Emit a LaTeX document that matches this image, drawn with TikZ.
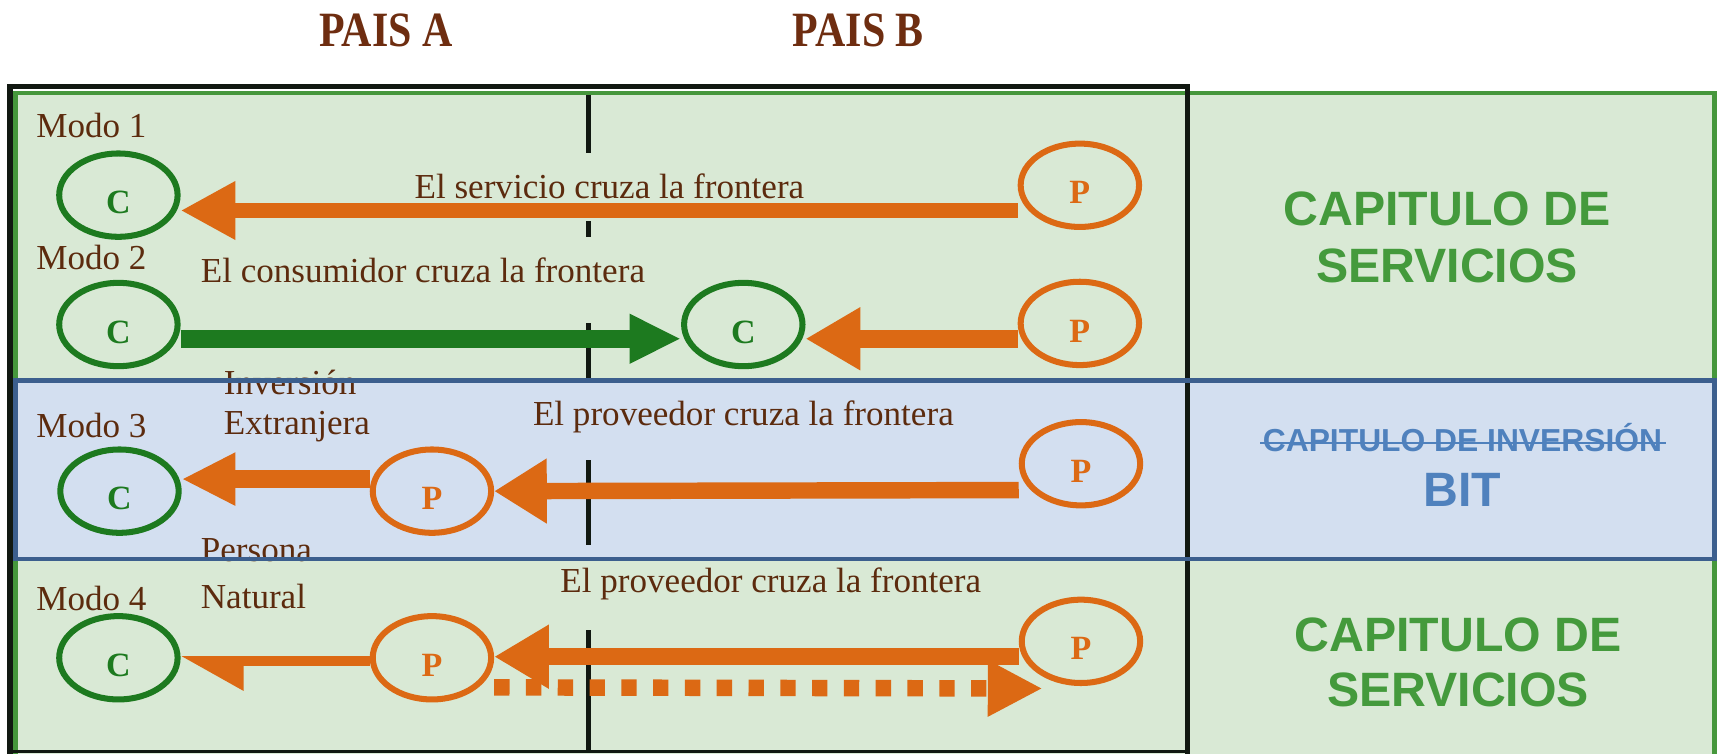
\documentclass[tikz,border=0pt]{standalone}
\usepackage{fontspec}
\usepackage{graphicx}
\setmainfont{Liberation Serif}
\newfontfamily\capfont{Liberation Sans}
\usetikzlibrary{shapes.geometric, arrows.meta}
\definecolor{bgg}{HTML}{D9E9D5}
\definecolor{bgb}{HTML}{D3DFF0}
\definecolor{gborder}{HTML}{46973C}
\definecolor{bborder}{HTML}{3C5F8E}
\definecolor{framecol}{HTML}{111811}
\definecolor{tcol}{HTML}{5C2B0E}
\definecolor{pcol}{HTML}{6E2D10}
\definecolor{ocol}{HTML}{DC6914}
\definecolor{gcol}{HTML}{1D7A1F}
\definecolor{capgreen}{HTML}{449A3C}
\definecolor{capblue}{HTML}{4F81BD}
\begin{document}
\begin{tikzpicture}[x=1pt, y=-1pt,
  lbl/.style={font=\fontsize{32}{32}\selectfont, text=tcol, inner sep=0pt, anchor=base west},
  pais/.style={font=\fontsize{45}{45}\selectfont\bfseries, text=pcol, inner sep=0pt, anchor=base},
  cnode/.style={ellipse, draw=gcol, line width=5.5pt, minimum width=108pt, minimum height=76pt,
    inner sep=0pt, text=gcol, font=\fontsize{31}{31}\selectfont\bfseries, text height=34pt, text depth=0pt},
  pnode/.style={cnode, draw=ocol, text=ocol},
  arr/.style n args={4}{draw=#1, line width=#2, -{Triangle[length=#3, width=#4]}},
  divline/.style={draw=framecol, line width=5pt},
  capgtxt/.style={font=\capfont\bfseries\fontsize{44}{44}\selectfont, text=capgreen, inner sep=0pt, anchor=base},
  capbtxt/.style={font=\capfont\bfseries\fontsize{44}{44}\selectfont, text=capblue, inner sep=0pt, anchor=base},
]
\useasboundingbox (0,0) rectangle (1568,687);
\fill[white] (0,0) rectangle (1568,687);
% backgrounds
\draw[gborder, fill=bgg, line width=4pt] (14,85) rectangle (1564,700);
\fill[bgb] (14,347) rectangle (1564,510);
% outer black frame
\draw[framecol, line width=5pt] (9,692) -- (9,79) -- (1083,79) -- (1083,692);
\draw[framecol, line width=3pt] (9,685.5) -- (1083,685.5);
% border between countries
\foreach \a/\b in {87/140, 202/216, 295/347, 420/497, 575/687}
  \draw[divline] (537,\a) -- (537,\b);

% titles
\node[pais] (paisa) at (352,42) {\scalebox{0.85}[1]{PAIS A}};
\node[pais] (paisb) at (783,42) {\scalebox{0.85}[1]{PAIS B}};

% labels
\node[lbl] (m1) at (33,125) {Modo 1};
\node[lbl] (t1) at (378,181) {El servicio cruza la frontera};
\node[lbl] (m2) at (33,246) {Modo 2};
\node[lbl] (t2) at (183,258) {El consumidor cruza la frontera};
\node[lbl] (inv) at (204,360) {Inversión};
\node[lbl] (ext) at (204,396) {Extranjera};
\node[lbl] (m3) at (33,399) {Modo 3};
\node[lbl] (t3) at (486,388) {El proveedor cruza la frontera};
\node[lbl] (pers) at (183,512) {Persona};
\node[lbl] (m4) at (33,557) {Modo 4};
\node[lbl] (nat) at (183,555) {Natural};
\node[lbl] (t4) at (511,540) {El proveedor cruza la frontera};

% ellipses
\node[cnode] (c1) at (108,178) {C};
\node[pnode] (p1) at (985,169) {P};
\node[cnode] (c2a) at (108,296) {C};
\node[cnode] (c2b) at (678,296) {C};
\node[pnode] (p2) at (985,295) {P};
\node[cnode] (c3) at (109,448) {C};
\node[pnode] (p3a) at (394,448) {P};
\node[pnode] (p3b) at (986,423) {P};
\node[cnode] (c4) at (108,600) {C};
\node[pnode] (p4a) at (394,600) {P};
\node[pnode] (p4b) at (986,585) {P};

% connectors
\draw[arr={ocol}{14pt}{50pt}{50pt}] ([yshift=-23pt]p1.west) -- ([yshift=-14pt]c1.east);
\draw[arr={gcol}{16pt}{47pt}{42pt}] ([yshift=-13pt]c2a.east) -- ([yshift=-13pt]c2b.west);
\draw[arr={ocol}{16pt}{50pt}{54pt}] ([yshift=-14pt]p2.west) -- ([yshift=-13pt]c2b.east);
\draw[arr={ocol}{16pt}{49pt}{45pt}] ([yshift=11pt]p3a.west) -- ([yshift=11pt]c3.east);
\draw[arr={ocol}{15pt}{48pt}{56pt}] ([yshift=-24pt]p3b.west) -- ([yshift=0pt]p3a.east);
\draw[draw=ocol, line width=9pt, -{Triangle[length=49pt, width=52pt, left]}] ([yshift=-3pt]p4a.west) -- ([yshift=-3pt]c4.east);
\draw[arr={ocol}{16pt}{50pt}{55pt}] ([yshift=-14pt]p4b.west) -- ([yshift=1pt]p4a.east);
\draw[draw=ocol, line width=15pt, dash pattern=on 14pt off 15pt, -{Triangle[length=50pt, width=48pt]}]
  ([yshift=-27pt]p4a.east) -- ([xshift=-35pt, yshift=-43pt]p4b.center);

% band border
\draw[bborder, line width=4pt] (14,347) rectangle (1564,510);

% right column
\node[capgtxt] (cs1a) at (1320,206) {CAPITULO DE};
\node[capgtxt] (cs1b) at (1320,258) {SERVICIOS};
\node[capbtxt, font=\capfont\bfseries\fontsize{29}{29}\selectfont] (cinv) at (1334,412) {CAPITULO DE INVERSIÓN};
\draw[capblue, line width=2pt] ([xshift=-2pt, yshift=8pt]cinv.base west) -- ([xshift=3pt, yshift=8pt]cinv.base east);
\node[capbtxt] (bit) at (1334,462) {BIT};
\node[capgtxt] (cs2a) at (1330,594) {CAPITULO DE};
\node[capgtxt] (cs2b) at (1330,644) {SERVICIOS};
\end{tikzpicture}
\end{document}
